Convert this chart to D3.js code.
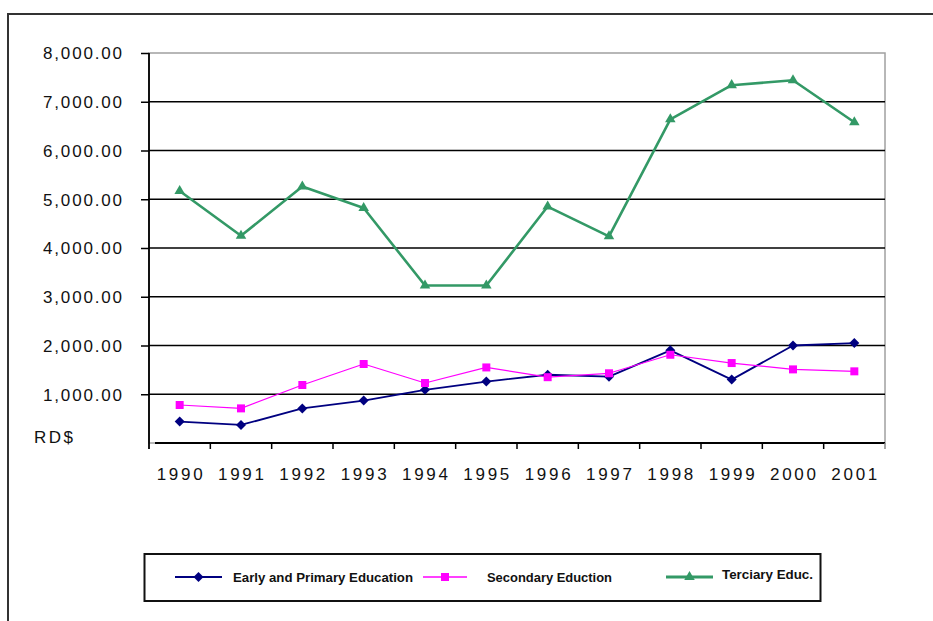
<!DOCTYPE html>
<html>
<head>
<meta charset="utf-8">
<script src="https://cdn.jsdelivr.net/npm/d3@7"></script>
<style>
  html, body { margin: 0; padding: 0; background: #fff; }
  svg { display: block; }
  text { font-family: "Liberation Sans", Arial, sans-serif; fill: #111; }
</style>
</head>
<body>
<svg id="chart" width="933" height="621"></svg>
<script>
// Spending per student by level of education, RD$
const years = ["1990","1991","1992","1993","1994","1995","1996","1997","1998","1999","2000","2001"];
const primary   = [440, 370, 710, 870, 1090, 1260, 1400, 1360, 1900, 1300, 2000, 2050];
const secondary = [780, 710, 1190, 1620, 1230, 1550, 1350, 1430, 1810, 1640, 1510, 1470];
const tertiary  = [5170, 4250, 5260, 4820, 3230, 3230, 4850, 4240, 6640, 7340, 7440, 6580];
const yTicks = [1000, 2000, 3000, 4000, 5000, 6000, 7000, 8000];
const seriesNames = ["Early and Primary Education", "Secondary Eduction", "Terciary Educ."];
const unitLabel = "RD$";

const svg = d3.select("#chart");

// outer frame (top and left edges visible)
svg.append("path")
  .attr("d", "M8,621 V14 H933")
  .attr("fill", "none").attr("stroke", "#333").attr("stroke-width", 2);

const x = d3.scaleBand().domain(years).range([149, 885]).padding(0);
const y = d3.scaleLinear().domain([0, 8000]).range([443, 53]);
const cx = d => x(d) + x.bandwidth() / 2;

// plot area border
svg.append("rect")
  .attr("x", x.range()[0]).attr("y", y(8000))
  .attr("width", x.range()[1] - x.range()[0]).attr("height", y(0) - y(8000))
  .attr("fill", "none").attr("stroke", "#a0a0a0").attr("stroke-width", 1.5);

// horizontal gridlines
svg.append("g").selectAll("line")
  .data(yTicks.filter(v => v < 8000))
  .join("line")
  .attr("x1", x.range()[0]).attr("x2", x.range()[1])
  .attr("y1", d => y(d)).attr("y2", d => y(d))
  .attr("stroke", "#000").attr("stroke-width", 1.5);

// y axis
const yAxis = svg.append("g")
  .attr("transform", `translate(${x.range()[0]},0)`)
  .call(d3.axisLeft(y).tickValues(yTicks).tickSize(8).tickPadding(19)
    .tickFormat(d3.format(",.2f")));
yAxis.select(".domain").remove();
yAxis.selectAll(".tick line").attr("stroke", "#000").attr("stroke-width", 1.5);
yAxis.selectAll(".tick text")
  .attr("font-size", 17).attr("font-family", "Liberation Sans, Arial, sans-serif")
  .attr("fill", "#111").attr("dy", "0.34em")
  .attr("textLength", 79).attr("lengthAdjust", "spacing");
svg.append("line")
  .attr("x1", x.range()[0]).attr("x2", x.range()[0])
  .attr("y1", y(8000)).attr("y2", y(0) + 6)
  .attr("stroke", "#000").attr("stroke-width", 1.8);

svg.append("text")
  .attr("x", 34).attr("y", 443)
  .attr("font-size", 17)
  .attr("textLength", 39).attr("lengthAdjust", "spacing")
  .text(unitLabel);

// x axis
const xAxis = svg.append("g")
  .attr("transform", `translate(0,${y(0)})`)
  .call(d3.axisBottom(x).tickSize(0).tickPadding(25));
xAxis.select(".domain").remove();
xAxis.selectAll(".tick text")
  .attr("font-size", 17).attr("font-family", "Liberation Sans, Arial, sans-serif")
  .attr("fill", "#111")
  .attr("textLength", 46).attr("lengthAdjust", "spacing");
svg.append("line")
  .attr("x1", x.range()[0] + 6).attr("x2", x.range()[1])
  .attr("y1", y(0)).attr("y2", y(0))
  .attr("stroke", "#000").attr("stroke-width", 1.8);
svg.append("g").selectAll("line")
  .data(years)
  .join("line")
  .attr("x1", d => x(d) + x.bandwidth()).attr("x2", d => x(d) + x.bandwidth())
  .attr("y1", y(0)).attr("y2", y(0) + 6)
  .attr("stroke", d => d === years[years.length - 1] ? "#888" : "#000")
  .attr("stroke-width", 1.5);

// series
const series = [
  { name: seriesNames[0], values: primary,   color: "#000080", width: 1.8,
    symbol: d3.symbol(d3.symbolSquare, 50), rotate: 45 },
  { name: seriesNames[1], values: secondary, color: "#ff00ff", width: 1.2,
    symbol: d3.symbol(d3.symbolSquare, 64), rotate: 0 },
  { name: seriesNames[2], values: tertiary,  color: "#339966", width: 2.6,
    symbol: d3.symbol(d3.symbolTriangle, 48), rotate: 0 }
];

const line = d3.line().x((d, i) => cx(years[i])).y(d => y(d));

series.forEach(s => {
  svg.append("path")
    .datum(s.values)
    .attr("d", line)
    .attr("fill", "none").attr("stroke", s.color).attr("stroke-width", s.width)
    .attr("stroke-linejoin", "round");
  svg.append("g").selectAll("path")
    .data(s.values)
    .join("path")
    .attr("d", s.symbol())
    .attr("transform", (d, i) => `translate(${cx(years[i])},${y(d)}) rotate(${s.rotate})`)
    .attr("fill", s.color);
});

// legend
const legend = svg.append("g");
legend.append("rect")
  .attr("x", 144.5).attr("y", 554).attr("width", 676).attr("height", 47)
  .attr("fill", "#fff").attr("stroke", "#111").attr("stroke-width", 2);

const legendItems = [
  { s: series[0], x1: 175, x2: 222, ly: 577, tx: 233, ty: 581.5, tw: 180 },
  { s: series[1], x1: 423, x2: 467, ly: 577, tx: 487, ty: 582, tw: 125 },
  { s: series[2], x1: 666, x2: 713, ly: 577, tx: 722, ty: 578.5, tw: 91 }
];
legendItems.forEach(it => {
  const mx = (it.x1 + it.x2) / 2;
  legend.append("line")
    .attr("x1", it.x1).attr("x2", it.x2).attr("y1", it.ly).attr("y2", it.ly)
    .attr("stroke", it.s.color).attr("stroke-width", it.s.width + 0.4);
  legend.append("path")
    .attr("d", it.s.symbol())
    .attr("transform", `translate(${mx},${it.ly}) rotate(${it.s.rotate})`)
    .attr("fill", it.s.color);
  legend.append("text")
    .attr("x", it.tx).attr("y", it.ty)
    .attr("font-size", 12).attr("font-weight", "bold")
    .attr("textLength", it.tw).attr("lengthAdjust", "spacingAndGlyphs")
    .text(it.s.name);
});
</script>
</body>
</html>
